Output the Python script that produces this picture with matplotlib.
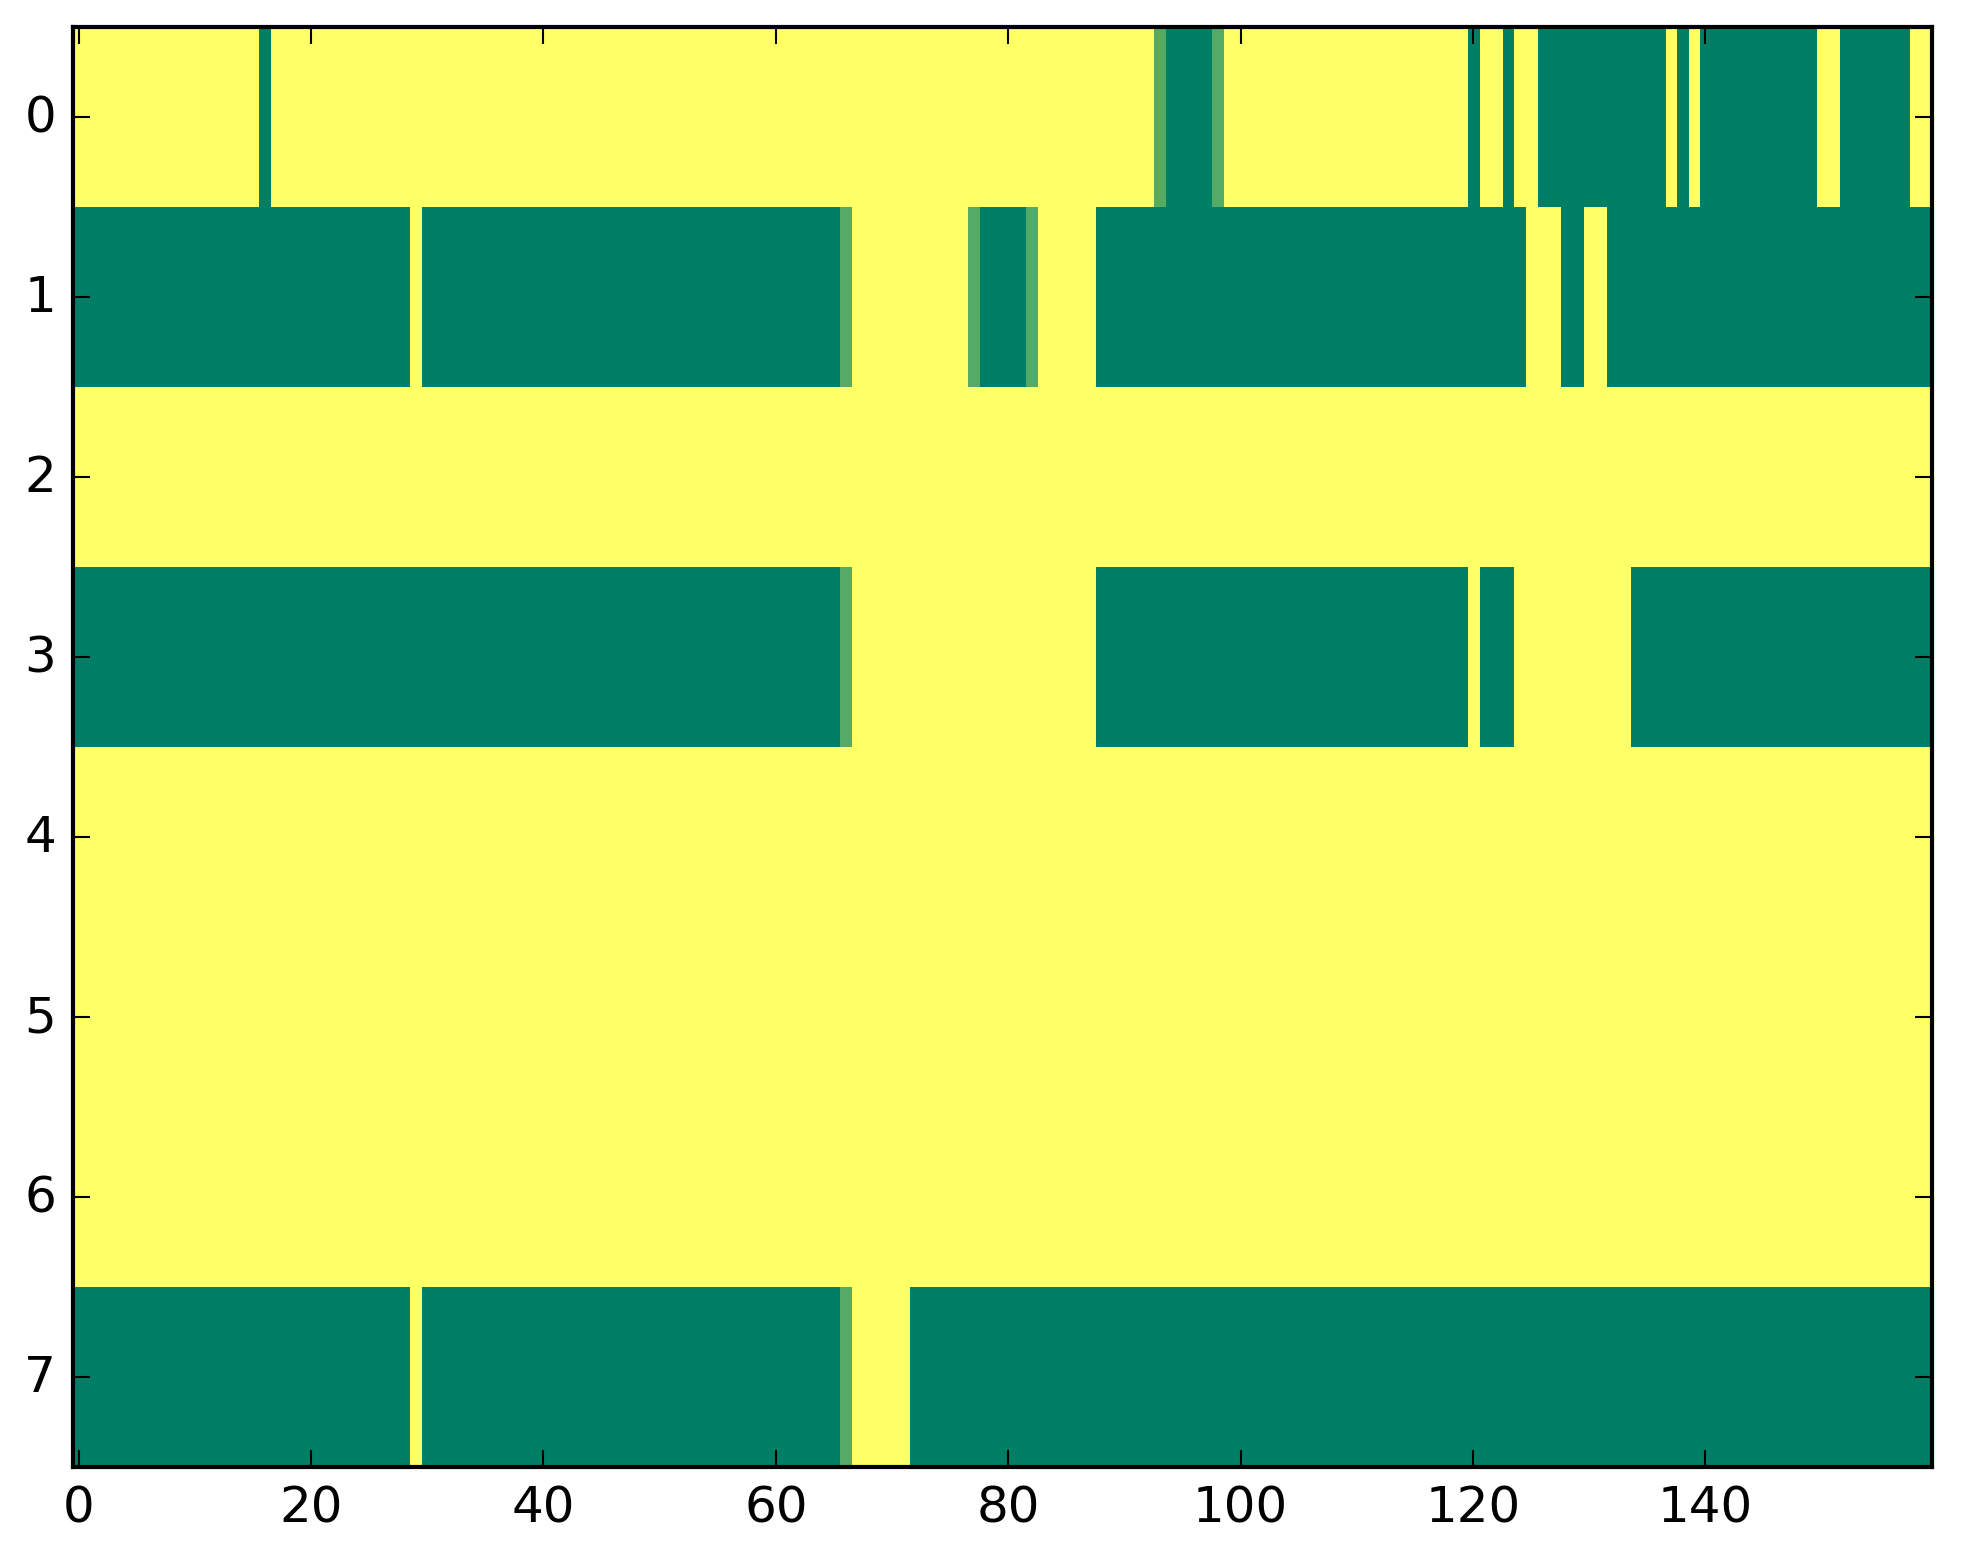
import numpy as np
import matplotlib
matplotlib.use('Agg')
import matplotlib.pyplot as plt

plt.style.use('classic')

n_rows = 8
n_cols = 160

# runs of non-yellow cells per row: (first column, last column, value)
# value 0 = dark green, 1/3 = light green, everything else is 1 (yellow)
runs_row0 = [(16, 16, 0), (93, 93, 1/3), (94, 97, 0), (98, 98, 1/3),
             (120, 120, 0), (123, 123, 0), (126, 136, 0), (138, 138, 0),
             (140, 149, 0), (152, 157, 0)]
runs_row1 = [(0, 28, 0), (30, 65, 0), (66, 66, 1/3), (77, 77, 1/3),
             (78, 81, 0), (82, 82, 1/3), (88, 124, 0), (128, 129, 0),
             (132, 159, 0)]
runs_row2 = []
runs_row3 = [(0, 65, 0), (66, 66, 1/3), (88, 119, 0), (121, 123, 0),
             (134, 159, 0)]
runs_row4 = []
runs_row5 = []
runs_row6 = []
runs_row7 = [(0, 28, 0), (30, 65, 0), (66, 66, 1/3), (72, 159, 0)]

all_runs = [runs_row0, runs_row1, runs_row2, runs_row3,
            runs_row4, runs_row5, runs_row6, runs_row7]

data = np.ones((n_rows, n_cols))
for r, runs in enumerate(all_runs):
    for a, b, v in runs:
        data[r, a:b + 1] = v

fig = plt.figure(figsize=(1963 / 300, 1564 / 300), dpi=300)
fig.patch.set_facecolor('white')
ax = fig.add_axes([0.0371, 0.0614, 0.9471, 0.9204])

ax.imshow(data, cmap='summer', vmin=0, vmax=1, aspect='auto',
          interpolation='nearest')

ax.set_xticks(np.arange(0, 141, 20))
ax.set_yticks(np.arange(0, 8))
ax.set_xlim(-0.5, n_cols - 0.5)
ax.set_ylim(n_rows - 0.5, -0.5)

fig.savefig('out.png', dpi=300, facecolor='white')
